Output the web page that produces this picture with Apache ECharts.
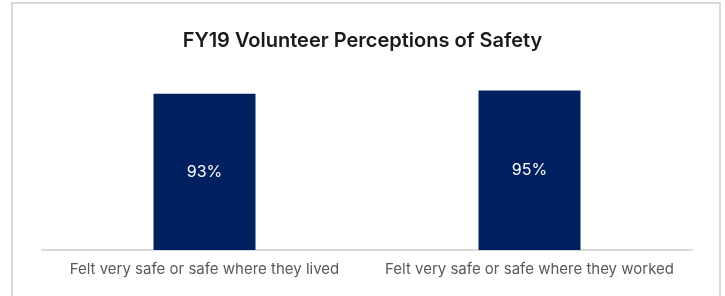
<!DOCTYPE html>
<html>
<head>
<meta charset="utf-8">
<script src="https://cdn.jsdelivr.net/npm/echarts@6/dist/echarts.min.js"></script>
<style>
  html, body { margin: 0; padding: 0; background: #fff; }
  #echart { width: 725px; height: 296px; }
</style>
</head>
<body>
<div id="echart"></div>
<script>
var categories = ['Felt very safe or safe where they lived', 'Felt very safe or safe where they worked'];
var values = [93, 95];

var chart = echarts.init(document.getElementById('echart'));

chart.setOption({
  animation: false,
  title: {
    text: 'FY19 Volunteer Perceptions of Safety',
    left: 'center',
    top: 26,
    textStyle: { fontFamily: 'Inter', fontSize: 20, fontWeight: 600, color: '#1a1a1a' }
  },
  graphic: [{
    type: 'rect',
    shape: { x: 12, y: 3, width: 708, height: 300 },
    style: { fill: 'none', stroke: '#d9d9d9', lineWidth: 2 },
    silent: true
  }],
  grid: { left: 42, right: 33, top: 82, bottom: 46 },
  xAxis: {
    type: 'category',
    data: categories,
    axisLine: { lineStyle: { color: '#d9d9d9', width: 2 } },
    axisTick: { show: false },
    axisLabel: { interval: 0, fontFamily: 'Inter', fontSize: 15, color: '#595959', margin: 12 }
  },
  yAxis: {
    type: 'value',
    min: 0,
    max: 100,
    show: false,
    splitLine: { show: false }
  },
  series: [{
    type: 'bar',
    data: values,
    barWidth: 102,
    itemStyle: { color: '#002060' },
    label: {
      show: true,
      position: 'inside',
      formatter: '{c}%',
      fontFamily: 'Inter',
      fontSize: 16,
      color: '#ffffff'
    }
  }]
});
</script>
</body>
</html>
